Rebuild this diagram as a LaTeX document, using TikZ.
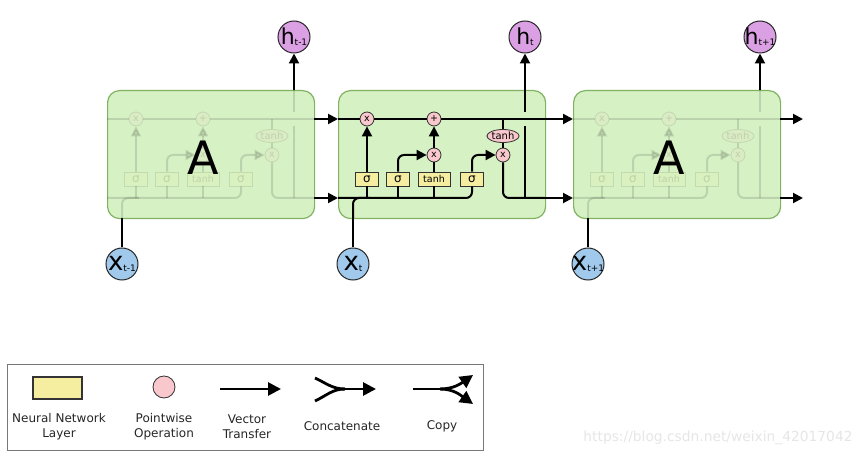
\documentclass[tikz,border=0pt]{standalone}
\usepackage{fontspec}
\setmainfont{DejaVu Sans}
\usetikzlibrary{arrows.meta,shapes.geometric}
\definecolor{cellfill}{RGB}{214,241,196}
\definecolor{celldraw}{RGB}{128,178,98}
\definecolor{gatefill}{RGB}{245,237,160}
\definecolor{pwfill}{RGB}{248,200,204}
\definecolor{hfill}{RGB}{219,160,228}
\definecolor{xfill}{RGB}{160,201,235}
\definecolor{legdraw}{RGB}{120,120,120}
\definecolor{wmark}{RGB}{230,230,230}
\tikzset{
  cellbox/.style={draw=celldraw, fill=cellfill, line width=1.2pt, rounded corners=12pt, inner sep=0pt},
  gate/.style={draw=black!80, fill=gatefill, line width=0.8pt, minimum height=14pt, inner sep=0pt, font=\fontsize{12}{12}\selectfont},
  pw/.style={circle, draw=black!80, fill=pwfill, line width=0.8pt, minimum size=14pt, inner sep=0pt, font=\fontsize{9.5}{9.5}\selectfont},
  hcirc/.style={circle, draw=black!85, fill=hfill, line width=1pt, minimum size=32pt, inner sep=0pt},
  xcirc/.style={circle, draw=black!85, fill=xfill, line width=1pt, minimum size=32pt, inner sep=0pt},
  wire/.style={line width=2pt, draw=black},
  arr/.style={wire, -{Triangle[length=10pt,width=10pt]}},
  legarr/.style={line width=2.8pt, draw=black, -{Triangle[length=13pt,width=13pt]}},
  legwire/.style={line width=2.8pt, draw=black},
  bigA/.style={font=\fontsize{46}{46}\selectfont},
  legtext/.style={font=\fontsize{12}{15}\selectfont, align=center, text=black!85},
}
\newcommand\htext[1]{\makebox[0pt]{\raisebox{-8pt}[0pt][0pt]{{\fontsize{22}{22}\selectfont h}\raisebox{-1pt}{\fontsize{9}{9}\selectfont #1}}}}
\newcommand\xtext[1]{\makebox[0pt]{\raisebox{-7pt}[0pt][0pt]{{\fontsize{26}{26}\selectfont x}\raisebox{-1pt}{\fontsize{9}{9}\selectfont #1}}}}
\newcommand\cellbody[1]{%
  \node[pw] (#1f) at (29,119) {x};
  \node[pw] (#1p) at (96,119) {+};
  \node[pw] (#1i) at (96,155) {x};
  \node[pw,ellipse,minimum width=32pt,minimum height=13pt,font=\fontsize{10}{10}\selectfont] (#1th) at (165,136) {tanh};
  \node[pw] (#1o) at (165,155) {x};
  \node[gate,minimum width=23pt] (#1g1) at (29,179) {σ};
  \node[gate,minimum width=23pt] (#1g2) at (60,179) {σ};
  \node[gate,minimum width=32pt,font=\fontsize{9.5}{9.5}\selectfont] (#1g3) at (96,179) {tanh};
  \node[gate,minimum width=23pt] (#1g4) at (134,179) {σ};
  \coordinate (#1cin) at (0,119);
  \coordinate (#1cout) at (207,119);
  \coordinate (#1ct) at (165,119);
  \coordinate (#1hin) at (0,198);
  \coordinate (#1hout) at (207,198);
  \coordinate (#1hc) at (134,198);
  \coordinate (#1t1) at (29,198);
  \coordinate (#1t2) at (60,198);
  \coordinate (#1t3) at (96,198);
  \coordinate (#1xb) at (15,218);
  \coordinate (#1xc) at (15,198);
  \coordinate (#1xm) at (32,198);
  \coordinate (#1vb) at (187,198);
  \coordinate (#1v1) at (187,126);
  \coordinate (#1v2) at (187,112);
  \coordinate (#1vt) at (187,90);
  \draw[wire] (#1cin) -- (#1f) -- (#1p) -- (#1cout);
  \draw[wire] (#1ct) -- (#1th);
  \draw[wire] (#1th) -- (#1o);
  \draw[wire,rounded corners=6pt] (#1o) |- (#1hout);
  \draw[wire,rounded corners=6pt] (#1hin) -- (#1hc) -- (#1g4);
  \draw[wire] (#1t1) -- (#1g1);
  \draw[wire] (#1t2) -- (#1g2);
  \draw[wire] (#1t3) -- (#1g3);
  \draw[wire,rounded corners=6pt] (#1xb) -- (#1xc) -- (#1xm);
  \draw[arr] (#1g1) -- (#1f);
  \draw[arr,rounded corners=6pt] (#1g2) |- (#1i);
  \draw[wire] (#1g3) -- (#1i);
  \draw[arr] (#1i) -- (#1p);
  \draw[arr,rounded corners=6pt] (#1g4) |- (#1o);
  \draw[wire] (#1vb) -- (#1v1);
  \draw[wire] (#1v2) -- (#1vt);
}
\begin{document}
\begin{tikzpicture}[x=1pt,y=-1pt]
\useasboundingbox[fill=white] (0,0) rectangle (863,457);

% left cell
\begin{scope}[xshift=107pt]
  \node[cellbox, minimum width=207pt, minimum height=128pt, anchor=north west] (Lbox) at (0,90) {};
  \begin{scope}[opacity=0.12]
    \cellbody{L}
  \end{scope}
  \node[bigA] (LA) at (96,158) {A};
  \node[hcirc] (Lh) at (187,37) {\htext{t-1}};
  \node[xcirc] (Lx) at (15,264) {\xtext{t-1}};
  \draw[arr] (Lvt) -- (Lh);
  \draw[wire] (Lx) -- (Lxb);
\end{scope}

% centre cell
\begin{scope}[xshift=338pt]
  \node[cellbox, minimum width=207pt, minimum height=128pt, anchor=north west] (Cbox) at (0,90) {};
  \cellbody{C}
  \node[hcirc] (Ch) at (187,37) {\htext{t}};
  \node[xcirc] (Cx) at (15,264) {\xtext{t}};
  \draw[arr] (Cvt) -- (Ch);
  \draw[wire] (Cx) -- (Cxb);
\end{scope}

% right cell
\begin{scope}[xshift=573pt]
  \node[cellbox, minimum width=207pt, minimum height=128pt, anchor=north west] (Rbox) at (0,90) {};
  \begin{scope}[opacity=0.12]
    \cellbody{R}
  \end{scope}
  \node[bigA] (RA) at (96,158) {A};
  \node[hcirc] (Rh) at (187,37) {\htext{t+1}};
  \node[xcirc] (Rx) at (15,264) {\xtext{t+1}};
  \draw[arr] (Rvt) -- (Rh);
  \draw[wire] (Rx) -- (Rxb);
\end{scope}

% links between cells
\coordinate (Rcend) at (803,119);
\coordinate (Rhend) at (803,198);
\draw[arr] (Lcout) -- (Ccin);
\draw[arr] (Lhout) -- (Chin);
\draw[arr] (Ccout) -- (Rcin);
\draw[arr] (Chout) -- (Rhin);
\draw[arr] (Rcout) -- (Rcend);
\draw[arr] (Rhout) -- (Rhend);

% legend
\node[draw=legdraw, line width=0.8pt, minimum width=476pt, minimum height=86pt, anchor=north west, inner sep=0pt] (leg) at (7,364) {};
\node[gate, minimum width=49pt, minimum height=22pt, line width=1.2pt] (lgate) at (57.5,388) {};
\node[pw, minimum size=22pt] (lpw) at (164,387) {};
\coordinate (va) at (220,389);
\coordinate (vb) at (281,389);
\draw[legarr] (va) -- (vb);
\coordinate (ca) at (315,378);
\coordinate (cb) at (315,401);
\coordinate (cm) at (345,389);
\coordinate (ce) at (376,389);
\draw[legwire] (ca) to[out=-25,in=180] (cm);
\draw[legwire] (cb) to[out=25,in=180] (cm);
\draw[legarr] (cm) -- (ce);
\coordinate (pa) at (413,389);
\coordinate (pm) at (440,389);
\coordinate (pt) at (473,375);
\coordinate (pb) at (473,404);
\draw[legwire] (pa) -- (pm);
\draw[legarr] (pm) to[out=0,in=215] (pt);
\draw[legarr] (pm) to[out=0,in=145] (pb);
\node[legtext] (t1) at (59,427) {Neural Network\\Layer};
\node[legtext] (t2) at (164,427) {Pointwise\\Operation};
\node[legtext] (t3) at (247,427) {Vector\\Transfer};
\node[legtext] (t4) at (342,426) {Concatenate};
\node[legtext] (t5) at (442,426) {Copy};

% watermark
\node[text=wmark, font=\fontsize{13.8}{13.8}\selectfont] (wm) at (718,438) {https://blog.csdn.net/weixin\_42017042};
\end{tikzpicture}
\end{document}
